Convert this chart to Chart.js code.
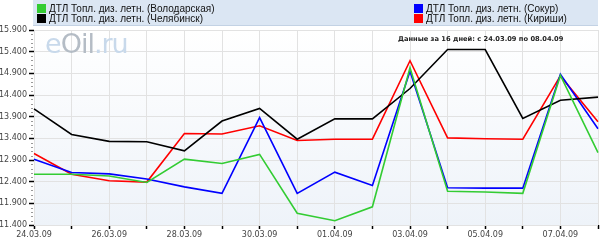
<!DOCTYPE html>
<html>
<head>
<meta charset="utf-8">
<script src="https://cdn.jsdelivr.net/npm/chart.js@4.4.0/dist/chart.umd.min.js"></script>
<style>
  body { margin: 0; background: #fff; }
  #wrap { position: relative; width: 600px; height: 243px; font-family: "DejaVu Sans", Verdana, sans-serif; }
  #legend { position: absolute; left: 33px; top: 0; width: 565px; height: 25px; background: #dbe6f3; border-bottom: 1px solid #c3d2e4; font-family: "Liberation Sans", Arial, sans-serif; font-size: 10px; color: #111; }
  .item { position: absolute; height: 11px; line-height: 11px; white-space: nowrap; }
  .item i { display: inline-block; width: 9px; height: 9px; vertical-align: -1px; margin-right: 3px; }
  #note { position: absolute; left: 398px; top: 35px; font-size: 6.7px; font-weight: bold; color: #222; }
  #mark { position: absolute; left: 45px; top: 28px; font-family: "DejaVu Sans", Verdana, sans-serif; font-size: 27px; color: #c8d9eb; letter-spacing: -1px; }
  #mark b { color: #b4bcc5; font-weight: normal; }
</style>
</head>
<body>
<div id="wrap">
  <canvas id="chart" width="600" height="243"></canvas>
  <div id="mark">e<b>Oil</b>.ru</div>
  <div id="note">Данные за 16 дней: с 24.03.09 по 08.04.09</div>
  <div id="legend"></div>
</div>
<script>
// dates
const labels = ['24.03.09', '25.03.09', '26.03.09', '27.03.09', '28.03.09', '29.03.09', '30.03.09', '31.03.09',
  '01.04.09', '02.04.09', '03.04.09', '04.04.09', '05.04.09', '06.04.09', '07.04.09', '08.04.09'];

// prices, rub/t
const volodarskaya = [12570, 12570, 12530, 12380, 12920, 12820, 13030, 11670, 11500, 11820, 15030, 12180, 12160, 12130, 14850, 13070];
const chelyabinsk = [14080, 13490, 13330, 13320, 13110, 13800, 14090, 13380, 13850, 13850, 14550, 15450, 15450, 13860, 14280, 14350];
const sokur = [12920, 12610, 12580, 12460, 12280, 12130, 13880, 12130, 12620, 12310, 14950, 12260, 12250, 12250, 14880, 13620];
const kirishi = [13050, 12570, 12420, 12390, 13510, 13500, 13690, 13350, 13380, 13380, 15190, 13410, 13390, 13380, 14840, 13780];

const yTicks = [11400, 11900, 12400, 12900, 13400, 13900, 14400, 14900, 15400, 15900];

const series = [
  { name: 'ДТЛ Топл. диз. летн. (Володарская)', data: volodarskaya, color: '#33cc33', col: 0, row: 0 },
  { name: 'ДТЛ Топл. диз. летн. (Челябинск)', data: chelyabinsk, color: '#000000', col: 0, row: 1 },
  { name: 'ДТЛ Топл. диз. летн. (Сокур)', data: sokur, color: '#0000ff', col: 1, row: 0 },
  { name: 'ДТЛ Топл. диз. летн. (Кириши)', data: kirishi, color: '#ff0000', col: 1, row: 1 }
];

// html legend, two columns
const legend = document.getElementById('legend');
series.forEach(s => {
  const d = document.createElement('div');
  d.className = 'item';
  d.style.left = (s.col ? 381 : 4) + 'px';
  d.style.top = (s.row ? 13 : 3) + 'px';
  d.innerHTML = '<i style="background:' + s.color + '"></i>' + s.name;
  legend.appendChild(d);
});

function fmt(v) {
  const s = String(v);
  return s.slice(0, s.length - 3) + '.' + s.slice(-3);
}

const bgPlugin = {
  id: 'bg',
  beforeDraw(chart) {
    const a = chart.chartArea, ctx = chart.ctx;
    const g = ctx.createLinearGradient(0, a.top, 0, a.bottom);
    g.addColorStop(0, '#ffffff');
    g.addColorStop(1, '#eef3f9');
    ctx.fillStyle = g;
    ctx.fillRect(a.left, a.top, a.right - a.left, a.bottom - a.top);
  },
  afterDraw(chart) {
    // minor ticks on value axis
    const y = chart.scales.y, ctx = chart.ctx, x0 = chart.chartArea.left;
    ctx.save();
    ctx.strokeStyle = '#999';
    ctx.lineWidth = 1;
    for (let v = 11400; v <= 15900; v += 100) {
      if ((v - 11400) % 500 === 0) continue;
      const py = Math.round(y.getPixelForValue(v)) + 0.5;
      ctx.beginPath();
      ctx.moveTo(x0 - 3, py);
      ctx.lineTo(x0 - 1, py);
      ctx.stroke();
    }
    ctx.restore();
  }
};

const ctx = document.getElementById('chart').getContext('2d');
const chart = new Chart(ctx, {
  type: 'line',
  data: {
    labels: labels,
    datasets: series.map(s => ({
      label: s.name,
      data: s.data,
      borderColor: s.color,
      backgroundColor: s.color,
      borderWidth: 1.6,
      pointRadius: 0,
      tension: 0,
      fill: false
    }))
  },
  options: {
    responsive: false,
    animation: false,
    layout: { padding: { top: 30, right: 2, left: 0, bottom: 0 } },
    plugins: { legend: { display: false }, tooltip: { enabled: false } },
    scales: {
      x: {
        offset: false,
        grid: { color: '#e2e2e2', tickColor: '#000', tickLength: 4, tickWidth: 1.5 },
        border: { display: false },
        ticks: {
          autoSkip: false, maxRotation: 0, padding: 1,
          color: '#444', font: { family: 'DejaVu Sans', size: 8 },
          callback: (v, i) => i % 2 === 0 ? labels[i] : ''
        },
        afterFit: s => { s.height = 18; }
      },
      y: {
        min: 11400, max: 15900,
        afterBuildTicks: s => { s.ticks = yTicks.map(v => ({ value: v })); },
        grid: { color: '#e2e2e2', tickColor: '#000', tickLength: 5, tickWidth: 1.5 },
        border: { display: false },
        ticks: {
          color: '#444', padding: 2, font: { family: 'DejaVu Sans', size: 8 },
          callback: v => fmt(v)
        },
        afterFit: s => { s.width = 34; }
      }
    }
  },
  plugins: [bgPlugin]
});
</script>
</body>
</html>
